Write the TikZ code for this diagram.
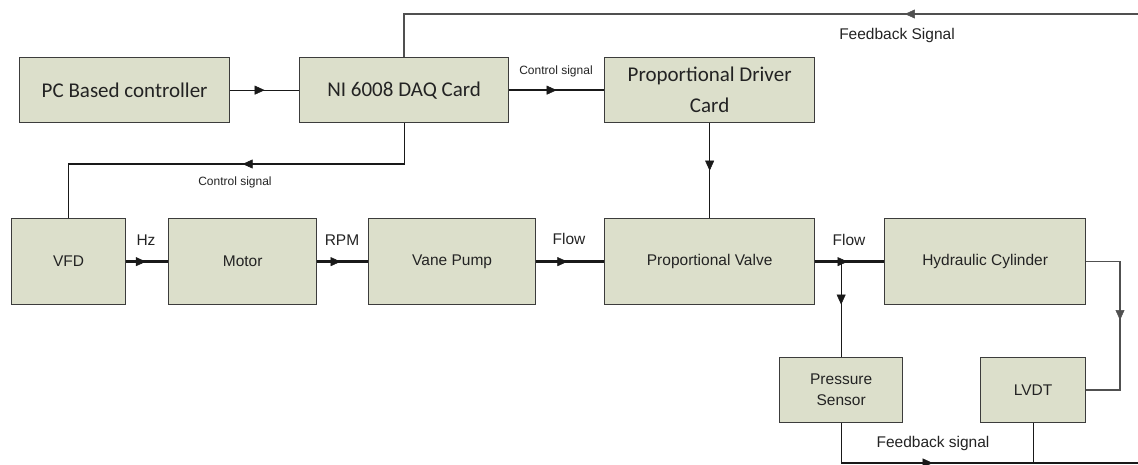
\documentclass[tikz,border=0pt]{standalone}
\usepackage{fontspec}
\setmainfont{Liberation Sans}
\newfontfamily\calfont{Carlito}
\usetikzlibrary{decorations.markings,arrows.meta}
\definecolor{boxfill}{RGB}{220,223,203}
\definecolor{edge}{RGB}{60,60,60}
\definecolor{wire}{RGB}{25,25,25}
\definecolor{fbwire}{RGB}{80,80,80}
\definecolor{txt}{RGB}{35,35,35}

\begin{document}
\begin{tikzpicture}[x=1pt,y=-1pt,
  blk/.style={draw=edge, line width=1.3pt, fill=boxfill, anchor=north west,
    inner sep=0pt, align=center, text=txt, font=\fontsize{15.5}{21}\selectfont},
  bigblk/.style={blk, font=\calfont\fontsize{21}{31}\selectfont},
  wirethin/.style={draw=wire, line width=1.3pt},
  wirethick/.style={draw=wire, line width=2.6pt},
  fbw/.style={draw=fbwire, line width=1.6pt},
  tipat/.style={postaction={decorate}, decoration={markings,
    mark=at position #1 with {\arrow[line width=0.5pt]{Triangle[length=10pt,width=9pt]}}}},
  lbl/.style={text=txt, font=\fontsize{15.5}{18}\selectfont},
  smalllbl/.style={text=txt, font=\fontsize{12}{14}\selectfont},
]
\useasboundingbox (0,0) rectangle (1138,464);
\clip (0,0) rectangle (1138,464);

% blocks
\node[bigblk, minimum width=210pt, minimum height=65pt] (pc) at (19,57) {PC Based controller};
\node[bigblk, minimum width=209pt, minimum height=65pt] (ni) at (299,57) {NI 6008 DAQ Card};
\node[bigblk, minimum width=210pt, minimum height=65pt] (drv) at (604,57) {Proportional Driver\\Card};
\node[blk, minimum width=114pt, minimum height=86pt] (vfd) at (11,218) {VFD};
\node[blk, minimum width=148pt, minimum height=86pt] (motor) at (168,218) {Motor};
\node[blk, minimum width=167pt, minimum height=86pt] (vane) at (368,218) {Vane Pump};
\node[blk, minimum width=210pt, minimum height=86pt] (valve) at (604,218) {Proportional Valve};
\node[blk, minimum width=201pt, minimum height=86pt] (hyd) at (884,218) {Hydraulic Cylinder};
\node[blk, minimum width=123pt, minimum height=65pt] (ps) at (779,357) {Pressure\\Sensor};
\node[blk, minimum width=105pt, minimum height=65pt] (lvdt) at (980,357) {LVDT};

% helper coordinates for routed wires
\coordinate (fbtop) at (1138,14);
\coordinate (ctlrow) at (0,164);
\coordinate (loopx) at (1120,0);
\coordinate (fbbot) at (1138,463);
\coordinate (jn) at (ps.north |- valve.east);

% control path
\draw[wirethin, tipat=0.5] (pc.east) -- (ni.west);
\draw[wirethick, tipat=0.5] (ni.east) -- (drv.west);
\draw[wirethin, tipat=0.5] (drv.south) -- (valve.north);
\draw[wirethin, tipat=0.47] (ni.south) -- (ni.south |- ctlrow) -- (vfd.north |- ctlrow) -- (vfd.north);

% power path
\draw[wirethick, tipat=0.47] (vfd.east) -- (motor.west);
\draw[wirethick, tipat=0.46] (motor.east) -- (vane.west);
\draw[wirethick, tipat=0.46] (vane.east) -- (valve.west);
\draw[wirethick, tipat=0.47] (valve.east) -- (hyd.west);
\draw[wirethin, tipat=0.45] (jn) -- (ps.north);

% feedback paths
\draw[fbw, tipat=0.3] (fbtop) -- (ni.north |- fbtop) -- (ni.north);
\draw[fbw, tipat=0.47] (hyd.east) -- (hyd.east -| loopx) -- (lvdt.east -| loopx) -- (lvdt.east);
\draw[wirethin, tipat=0.39] (ps.south) -- (ps.south |- fbbot) -- (fbbot);
\draw[wirethin] (lvdt.south) -- (lvdt.south |- fbbot);

% signal labels
\node[smalllbl] (lctl1) at (556,71) {Control signal};
\node[smalllbl] (lctl2) at (235,182) {Control signal};
\node[lbl] (lfb1) at (897,35) {Feedback Signal};
\node[lbl] (lhz) at (146,240) {Hz};
\node[lbl] (lrpm) at (342,240) {RPM};
\node[lbl] (lflow1) at (569,239) {Flow};
\node[lbl] (lflow2) at (849,240) {Flow};
\node[lbl] (lfb2) at (933,443) {Feedback signal};
\end{tikzpicture}
\end{document}
